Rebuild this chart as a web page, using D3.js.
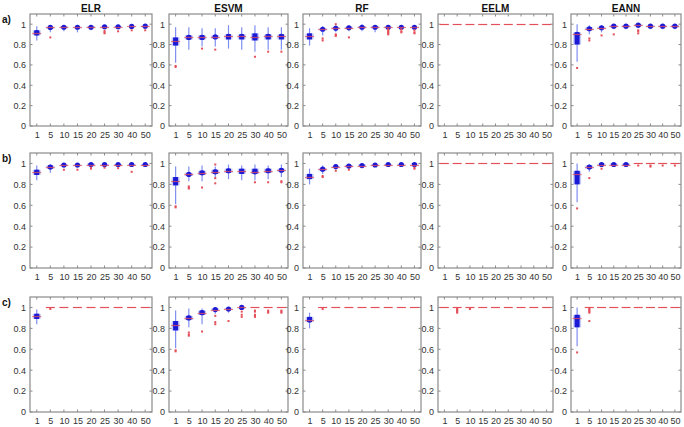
<!DOCTYPE html>
<html lang="en">
<head>
  <meta charset="utf-8">
  <title>Boxplots</title>
  <script src="https://cdn.jsdelivr.net/npm/d3@7"></script>
  <style>
    body { margin: 0; background: #fff; }
    text { font-family: "Liberation Sans", Arial, sans-serif; }
  </style>
</head>
<body>
<script>
// x categories, models, rows
const categories = ["1", "5", "10", "15", "20", "25", "30", "40", "50"];
const models = ["ELR", "ESVM", "RF", "EELM", "EANN"];
const rowLabels = ["a)", "b)", "c)"];
const yTicks = [0, 0.2, 0.4, 0.6, 0.8, 1];

// box stats per category: [lowWhisker, q1, median, q3, highWhisker]
const one = [1, 1, 1, 1, 1];

// row a
const aELR = [[0.84,0.89,0.915,0.94,0.98],[0.92,0.955,0.968,0.975,0.99],[0.93,0.96,0.97,0.98,0.99],[0.92,0.96,0.97,0.975,0.99],[0.94,0.962,0.97,0.978,0.99],[0.95,0.97,0.975,0.98,0.99],[0.95,0.97,0.975,0.98,0.99],[0.955,0.972,0.978,0.982,0.99],[0.955,0.975,0.98,0.985,0.995]];
const aELRout = [[],[0.87],[],[],[],[0.935,0.92,0.91],[0.93],[0.94],[0.94]];
const aESVM = [[0.62,0.79,0.83,0.87,0.97],[0.75,0.85,0.87,0.89,0.97],[0.78,0.85,0.87,0.89,0.96],[0.78,0.86,0.875,0.89,0.96],[0.76,0.85,0.88,0.9,0.99],[0.75,0.85,0.88,0.9,0.97],[0.73,0.84,0.87,0.91,0.99],[0.75,0.85,0.88,0.9,0.97],[0.75,0.85,0.88,0.9,0.97]];
const aESVMout = [[0.59,0.58],[],[0.76],[0.75],[],[],[0.68],[0.73],[0.73]];
const aRF = [[0.79,0.85,0.88,0.91,0.96],[0.89,0.94,0.95,0.96,0.98],[0.92,0.955,0.96,0.97,0.99],[0.93,0.955,0.965,0.975,0.99],[0.93,0.96,0.97,0.98,1.0],[0.92,0.96,0.97,0.98,0.99],[0.96,0.965,0.97,0.975,0.985],[0.955,0.965,0.97,0.975,0.985],[0.955,0.965,0.97,0.975,0.985]];
const aRFout = [[],[0.86,0.84],[1.0,0.9,0.89,0.885],[0.87],[],[],[0.95,0.94,0.93,0.92,0.91,0.9],[0.95,0.93,0.92],[0.94,0.92,0.91]];
const aEELM = [one, one, one, one, one, one, one, one, one];
const aEELMout = [[],[],[],[],[],[],[],[],[]];
const aEANN = [[0.63,0.8,0.9,0.92,1.0],[0.9,0.94,0.955,0.97,0.99],[0.92,0.955,0.965,0.975,0.99],[0.95,0.97,0.98,0.99,1.0],[0.95,0.97,0.98,0.99,1.0],[0.96,0.98,0.99,1.0,1.0],[0.95,0.97,0.98,0.99,1.0],[0.95,0.97,0.98,0.99,1.0],[0.95,0.97,0.98,0.99,1.0]];
const aEANNout = [[0.57],[0.86,0.84],[0.89],[0.9],[],[0.94,0.93,0.91],[],[],[]];

// row b
const bELR = [[0.84,0.89,0.915,0.94,0.98],[0.91,0.95,0.965,0.98,0.99],[0.96,0.975,0.985,0.99,1.0],[0.96,0.975,0.985,0.99,1.0],[0.97,0.98,0.99,1.0,1.0],[0.97,0.98,0.99,0.995,1.0],[0.97,0.98,0.99,0.995,1.0],[0.97,0.98,0.99,0.995,1.0],[0.98,0.985,0.99,0.995,1.0]];
const bELRout = [[],[],[0.94],[0.94],[0.96,0.95],[0.96],[0.955],[0.92],[]];
const bESVM = [[0.61,0.79,0.83,0.87,0.97],[0.83,0.88,0.895,0.91,0.97],[0.83,0.89,0.91,0.93,0.98],[0.85,0.9,0.92,0.94,0.97],[0.85,0.91,0.93,0.95,0.99],[0.84,0.9,0.925,0.95,0.98],[0.84,0.9,0.92,0.95,0.99],[0.85,0.91,0.93,0.95,0.98],[0.87,0.92,0.935,0.95,0.99]];
const bESVMout = [[0.59,0.58],[0.78,0.77,0.76],[0.77],[0.99,0.86,0.81],[],[],[0.82],[0.82],[0.83,0.82]];
const bRF = [[0.8,0.85,0.875,0.9,0.95],[0.9,0.93,0.945,0.955,0.98],[0.94,0.96,0.97,0.975,0.99],[0.95,0.965,0.975,0.985,0.995],[0.96,0.975,0.98,0.99,1.0],[0.97,0.98,0.985,0.99,1.0],[0.97,0.98,0.99,0.995,1.0],[0.97,0.985,0.99,0.995,1.0],[0.98,0.99,0.99,1.0,1.0]];
const bRFout = [[],[0.88,0.87],[0.93],[0.94],[],[],[],[],[0.96,0.95]];
const bEELM = [one, one, one, one, one, one, one, one, one];
const bEELMout = [[],[],[],[],[],[],[],[],[]];
const bEANN = [[0.63,0.8,0.9,0.93,1.0],[0.92,0.95,0.965,0.98,0.99],[0.97,0.98,0.99,1.0,1.0],[0.975,0.98,0.99,1.0,1.0],[0.975,0.98,0.99,1.0,1.0],one,one,one,one];
const bEANNout = [[0.57],[0.86],[0.95],[],[],[0.98],[0.98,0.97],[0.98],[0.98]];

// row c
const cELR = [[0.84,0.89,0.915,0.94,0.98],one,one,one,one,one,one,one,one];
const cELRout = [[],[0.985],[],[],[],[],[],[],[]];
const cESVM = [[0.61,0.78,0.83,0.87,0.97],[0.81,0.88,0.9,0.92,0.99],[0.84,0.93,0.95,0.97,0.99],[0.94,0.97,0.98,0.99,1.0],[0.95,0.98,0.985,0.995,1.0],[0.98,0.99,1.0,1.0,1.0],one,one,one];
const cESVMout = [[0.59,0.58],[0.76,0.74,0.73],[0.77],[0.92,0.86,0.84],[0.87],[0.96,0.93,0.91],[0.97,0.96,0.93,0.92,0.91],[0.97,0.96,0.95],[0.97,0.96,0.95]];
const cRF = [[0.8,0.86,0.88,0.91,0.95],one,one,one,one,one,one,one,one];
const cRFout = [[],[0.985],[],[],[],[],[],[],[]];
const cEELM = [one, one, one, one, one, one, one, one, one];
const cEELMout = [[],[0.99,0.98,0.97,0.96,0.95],[0.985],[],[],[],[],[],[]];
const cEANN = [[0.63,0.81,0.9,0.93,1.0],one,one,one,one,one,one,one,one];
const cEANNout = [[0.57],[0.99,0.98,0.97,0.96,0.95,0.87],[],[],[],[],[],[],[]];

const stats = [
  [aELR, aESVM, aRF, aEELM, aEANN],
  [bELR, bESVM, bRF, bEELM, bEANN],
  [cELR, cESVM, cRF, cEELM, cEANN]
];
const outliers = [
  [aELRout, aESVMout, aRFout, aEELMout, aEANNout],
  [bELRout, bESVMout, bRFout, bEELMout, bEANNout],
  [cELRout, cESVMout, cRFout, cEELMout, cEANNout]
];

// Layout
const W = 684, H = 427;
const colX = [30, 169, 303, 438, 571];
const colW = [122, 119, 118, 115, 110];
const rowY = [14, 153, 297];
const rowH = [112, 115, 115];

const svg = d3.select("body").append("svg")
  .attr("width", W)
  .attr("height", H);

const axisCol = "#8a8a8a";
const textCol = "#333";
const blue = "#1a1ad6";
const lightBlue = "#7f8ff0";
const red = "#e4505a";

rowLabels.forEach(function (lab, r) {
  svg.append("text")
    .attr("x", 2)
    .attr("y", rowY[r] + 9)
    .attr("font-size", 10)
    .attr("font-weight", "bold")
    .attr("fill", "#111")
    .text(lab);

  models.forEach(function (m, c) {
    const x0 = colX[c], y0 = rowY[r], w = colW[c], h = rowH[r];
    const g = svg.append("g").attr("transform", "translate(" + x0 + "," + y0 + ")");

    const x = d3.scalePoint().domain(categories).range([0, w]).padding(0.5);
    const y = d3.scaleLinear().domain([0, 1.1]).range([h, 0]);

    // frame
    g.append("rect")
      .attr("width", w).attr("height", h)
      .attr("fill", "#fff")
      .attr("stroke", axisCol).attr("stroke-width", 1.2);

    // inner ticks
    const tk = 2.5;
    categories.forEach(function (cat) {
      g.append("line").attr("x1", x(cat)).attr("x2", x(cat)).attr("y1", h).attr("y2", h - tk).attr("stroke", axisCol);
      g.append("line").attr("x1", x(cat)).attr("x2", x(cat)).attr("y1", 0).attr("y2", tk).attr("stroke", axisCol);
    });
    yTicks.forEach(function (t) {
      g.append("line").attr("x1", 0).attr("x2", tk).attr("y1", y(t)).attr("y2", y(t)).attr("stroke", axisCol);
      g.append("line").attr("x1", w).attr("x2", w - tk).attr("y1", y(t)).attr("y2", y(t)).attr("stroke", axisCol);
    });

    // tick labels
    const yAxis = d3.axisLeft(y).tickValues(yTicks).tickSize(0).tickPadding(4)
      .tickFormat(function (d) { return d3.format("")(+d.toFixed(1)); });
    const ya = g.append("g").call(yAxis);
    ya.select(".domain").remove();
    ya.selectAll("text").attr("font-size", 9).attr("fill", textCol)
      .style("font-family", "'Liberation Sans', Arial, sans-serif");

    const xAxis = d3.axisBottom(x).tickSize(0).tickPadding(6);
    const xa = g.append("g").attr("transform", "translate(0," + h + ")").call(xAxis);
    xa.select(".domain").remove();
    xa.selectAll("text").attr("font-size", 9).attr("fill", textCol)
      .style("font-family", "'Liberation Sans', Arial, sans-serif");

    // title (top row only)
    if (r === 0) {
      svg.append("text")
        .attr("x", x0 + w / 2)
        .attr("y", y0 - 2)
        .attr("text-anchor", "middle")
        .attr("font-size", 10)
        .attr("font-weight", "bold")
        .attr("fill", "#111")
        .text(m);
    }

    // boxes
    const data = stats[r][c];
    const outs = outliers[r][c];
    categories.forEach(function (cat, i) {
      const s = data[i];
      const cx = x(cat);
      if (s[4] > s[0]) {
        g.append("line")
          .attr("x1", cx).attr("x2", cx)
          .attr("y1", y(s[0])).attr("y2", y(s[4]))
          .attr("stroke", lightBlue).attr("stroke-width", 1.2);
      }
      if (s[3] > s[1]) {
        g.append("rect")
          .attr("x", cx - 4).attr("width", 8)
          .attr("y", y(s[3])).attr("height", Math.max(1, y(s[1]) - y(s[3])))
          .attr("fill", lightBlue).attr("opacity", 0.45);
        g.append("rect")
          .attr("x", cx - 2.5).attr("width", 5)
          .attr("y", y(s[3])).attr("height", Math.max(1.5, y(s[1]) - y(s[3])))
          .attr("fill", blue);
        g.append("circle")
          .attr("cx", cx).attr("cy", y(s[2])).attr("r", 2.6)
          .attr("fill", blue);
      }
      // median dash, snapped to the pixel grid
      const my = Math.round(y0 + y(s[2])) + 0.5 - y0;
      g.append("line")
        .attr("x1", cx - 4.5).attr("x2", cx + 4.5)
        .attr("y1", my).attr("y2", my)
        .attr("stroke", red).attr("stroke-width", 1.2)
        .attr("opacity", s[3] > s[1] ? 0.75 : 1);
      // outliers
      outs[i].forEach(function (v) {
        g.append("rect")
          .attr("x", cx - 1).attr("y", y(v) - 1)
          .attr("width", 2).attr("height", 2)
          .attr("fill", red);
      });
    });
  });
});
</script>
</body>
</html>
